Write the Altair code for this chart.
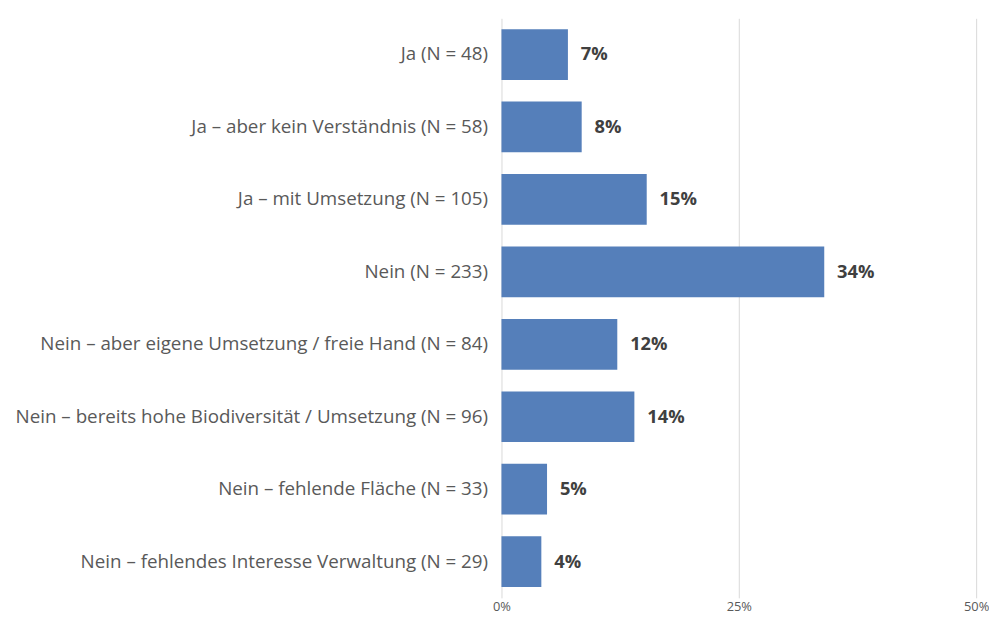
import altair as alt
import pandas as pd

categories = [
    "Ja (N = 48)",
    "Ja – aber kein Verständnis (N = 58)",
    "Ja – mit Umsetzung (N = 105)",
    "Nein (N = 233)",
    "Nein – aber eigene Umsetzung / freie Hand (N = 84)",
    "Nein – bereits hohe Biodiversität / Umsetzung (N = 96)",
    "Nein – fehlende Fläche (N = 33)",
    "Nein – fehlendes Interesse Verwaltung (N = 29)",
]
shares = [7.0, 8.45, 15.3, 34.0, 12.2, 14.0, 4.8, 4.2]
labels = ["7%", "8%", "15%", "34%", "12%", "14%", "5%", "4%"]
tick_values = [0, 25, 50]

df = pd.DataFrame({"cat": categories, "share": shares, "label": labels})

FONT = "Open Sans"

y_enc = alt.Y("cat:N", sort=categories, title=None,
              scale=alt.Scale(paddingInner=0.3, paddingOuter=0.15),
              axis=alt.Axis(labelFont=FONT, labelFontSize=19, labelColor="#595959",
                            labelPadding=14, ticks=False, domain=False, grid=False,
                            labelLimit=600))
x_enc = alt.X("share:Q", title=None,
              scale=alt.Scale(domain=[0, 50], nice=False),
              axis=alt.Axis(values=tick_values, labelExpr="datum.value + '%'",
                            labelFont=FONT, labelFontSize=13, labelColor="#595959",
                            labelPadding=3, labelFlush=False, ticks=False, domain=False,
                            grid=True, gridColor="#D9D9D9", gridWidth=1))

bars = alt.Chart(df).mark_bar(color="#557FBA").encode(y=y_enc, x=x_enc)
text = alt.Chart(df).mark_text(align="left", baseline="middle", dx=13,
                               font=FONT, fontSize=18.5, fontWeight="bold",
                               color="#404040").encode(
    y=alt.Y("cat:N", sort=categories), x="share:Q", text="label:N")

chart = (bars + text).properties(
    width=480, height=586,
    background="white",
    autosize=alt.AutoSizeParams(type="none"),
    padding={"left": 499, "top": 7, "right": 13, "bottom": 20},
).configure_view(stroke=None)

chart.save("out.html", embed_options={"renderer": "svg", "actions": False})
